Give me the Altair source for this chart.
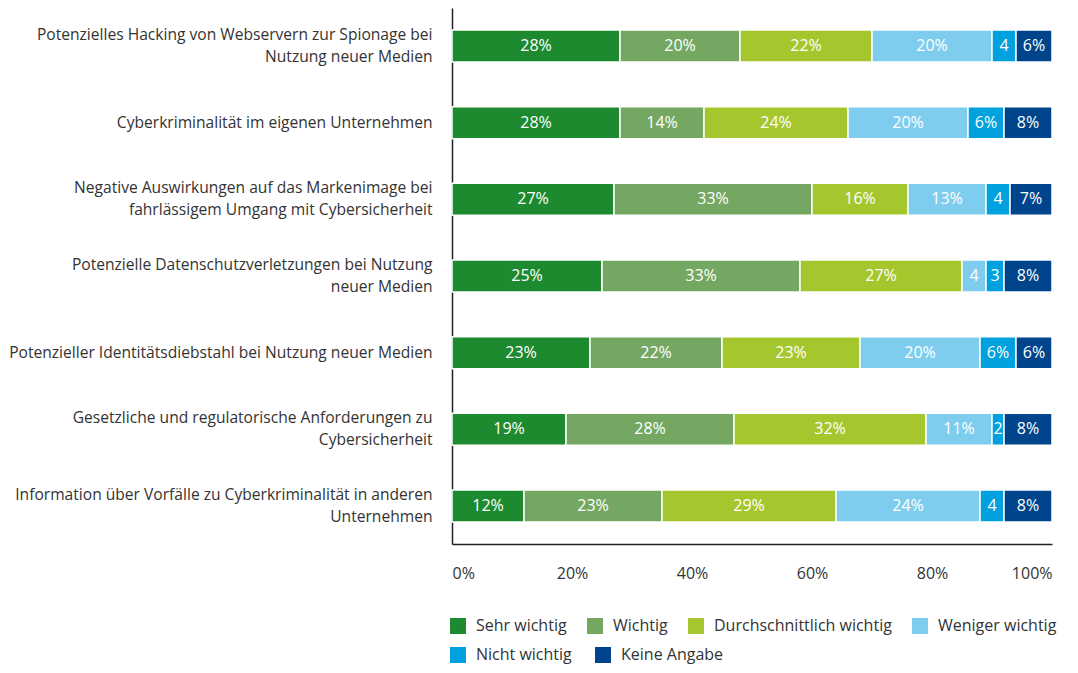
import altair as alt
import pandas as pd

categories = [
    "Potenzielles Hacking von Webservern zur Spionage bei|Nutzung neuer Medien",
    "Cyberkriminalität im eigenen Unternehmen ",
    "Negative Auswirkungen auf das Markenimage bei|fahrlässigem Umgang mit Cybersicherheit",
    "Potenzielle Datenschutzverletzungen bei Nutzung|neuer Medien",
    "Potenzieller Identitätsdiebstahl bei Nutzung neuer Medien",
    "Gesetzliche und regulatorische Anforderungen zu|Cybersicherheit",
    "Information über Vorfälle zu Cyberkriminalität in anderen|Unternehmen",
]
series = ["Sehr wichtig", "Wichtig", "Durchschnittlich wichtig",
          "Weniger wichtig", "Nicht wichtig", "Keine Angabe"]
colors = ["#1d8a2f", "#74a862", "#a6c62e", "#7fcdee", "#00a1de", "#00458c"]

sehr_wichtig = [28, 28, 27, 25, 23, 19, 12]
wichtig = [20, 14, 33, 33, 22, 28, 23]
durchschnittlich = [22, 24, 16, 27, 23, 32, 29]
weniger_wichtig = [20, 20, 13, 4, 20, 11, 24]
nicht_wichtig = [4, 6, 4, 3, 6, 2, 4]
keine_angabe = [6, 8, 7, 8, 6, 8, 8]
x_ticks = [0, 20, 40, 60, 80, 100]

all_vals = [sehr_wichtig, wichtig, durchschnittlich, weniger_wichtig, nicht_wichtig, keine_angabe]
rows = []
for si, (s, vals) in enumerate(zip(series, all_vals)):
    for c, v in zip(categories, vals):
        rows.append({"cat": c, "series": s, "order": si, "value": v,
                     "label": f"{v}" if v <= 4 else f"{v}%"})
df = pd.DataFrame(rows)

FONT = "Open Sans"
TXT = "#333333"
FS = 16
FS_Y = 15.6

base = alt.Chart(df).transform_stack(
    stack="value", groupby=["cat"], as_=["x0", "x1"],
    sort=[alt.SortField("order", order="ascending")]
).transform_calculate(mid="(datum.x0 + datum.x1) / 2")

x_enc = alt.X("x0:Q", title=None, scale=alt.Scale(domain=[0, 100], nice=False),
              axis=alt.Axis(values=x_ticks, labelExpr="datum.value + '%'",
                            labelFont=FONT, labelFontSize=FS, labelColor=TXT,
                            labelPadding=21, ticks=False, grid=False,
                            domainColor="#222222", domainWidth=1.5))

y_enc = alt.Y("cat:N", sort=categories, title=None,
              scale=alt.Scale(paddingInner=0.583, paddingOuter=0.287),
              axis=alt.Axis(labelExpr="split(datum.label, '|')", labelFont=FONT,
                            labelFontSize=FS_Y, labelColor=TXT, labelLimit=600,
                            labelLineHeight=22, labelPadding=20, ticks=False,
                            labelOffset={"condition": {"test": "indexof(datum.value, '|') >= 0",
                                                       "value": -11}, "value": 0},
                            domainColor="#222222", domainWidth=1.5,
                            minExtent=443, maxExtent=443))

legend_common = dict(title=None, orient="none", direction="horizontal",
                     symbolType="square", symbolSize=256, symbolStrokeWidth=0,
                     labelOffset=10, labelFont=FONT, labelFontSize=FS,
                     labelColor=TXT, labelLimit=400)

first_row = series[:4]
second_row = series[4:]

bars_a = base.transform_filter(
    alt.FieldOneOfPredicate(field="series", oneOf=first_row)
).mark_bar(stroke="white", strokeWidth=1.5).encode(
    x=x_enc, x2="x1:Q", y=y_enc,
    color=alt.Color("series:N", sort=first_row,
                    scale=alt.Scale(domain=first_row, range=colors[:4]),
                    legend=alt.Legend(legendX=-2, legendY=610, columns=4,
                                      columnPadding=20, **legend_common)),
)

bars_b = base.transform_filter(
    alt.FieldOneOfPredicate(field="series", oneOf=second_row)
).mark_bar(stroke="white", strokeWidth=1.5).encode(
    x=x_enc, x2="x1:Q", y=y_enc,
    color=alt.Color("series:N", sort=second_row,
                    scale=alt.Scale(domain=second_row, range=colors[4:]),
                    legend=alt.Legend(legendX=-2, legendY=639, columns=2,
                                      columnPadding=23, **legend_common)),
)

labels = base.mark_text(color="white", font=FONT, fontSize=FS, baseline="middle").encode(
    x=alt.X("mid:Q"),
    y=alt.Y("cat:N", sort=categories),
    text="label:N",
)

chart = alt.layer(bars_a, bars_b, labels).resolve_scale(color="independent").properties(
    width=600, height=536,
    padding={"left": 0, "top": 0, "right": 0, "bottom": 1},
).configure_view(stroke=None)

chart.save("out.html", embed_options={"renderer": "svg", "actions": False})
